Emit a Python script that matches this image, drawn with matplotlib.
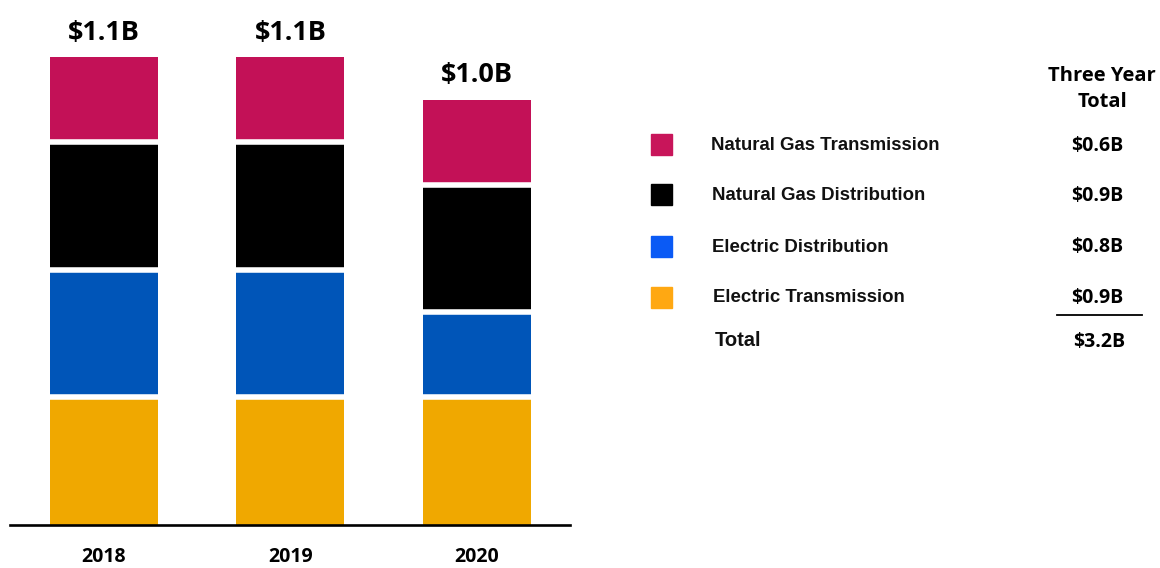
import matplotlib
matplotlib.use('Agg')
import matplotlib.pyplot as plt
from matplotlib.patches import Rectangle

years = ['2018', '2019', '2020']
elec_trans = [0.3, 0.3, 0.3]
elec_dist = [0.3, 0.3, 0.2]
gas_dist = [0.3, 0.3, 0.3]
gas_trans = [0.2, 0.2, 0.2]
year_totals = ['$1.1B', '$1.1B', '$1.0B']

legend_names = ['Natural Gas Transmission', 'Natural Gas Distribution',
                'Electric Distribution', 'Electric Transmission']
three_year = ['$0.6B', '$0.9B', '$0.8B', '$0.9B']
grand_total = '$3.2B'

bar_colors = ['#F0A800', '#0055B8', '#000000', '#C31157']   # bottom -> top
legend_colors = ['#C8155A', '#000000', '#0A5AF5', '#FFA812']

W, H = 1160, 568
fig = plt.figure(figsize=(W / 100, H / 100), dpi=100)

def px(x, y):
    # pixel position (from top-left) -> figure fraction
    return x / W, 1 - y / H

# bar axes: baseline at y=525, top of $1.1B at ~57
ax = fig.add_axes([10 / W, (H - 525) / H, 560 / W, (525 - 57) / H])

x = list(range(len(years)))
bw = 0.58
bottom = [0, 0, 0]
for vals, col in zip([elec_trans, elec_dist, gas_dist, gas_trans], bar_colors):
    ax.bar(x, vals, width=bw, bottom=bottom, color=col, linewidth=0)
    bottom = [b + v for b, v in zip(bottom, vals)]
    # white gap on top of each segment except the last one
    if col != bar_colors[-1]:
        ax.hlines(bottom, [xi - bw / 2 for xi in x], [xi + bw / 2 for xi in x],
                  color='white', linewidth=4, zorder=3)

for xi, top, lab in zip(x, bottom, year_totals):
    ax.annotate(lab, (xi, top), xytext=(0, 8), textcoords='offset points',
                ha='center', va='bottom', fontsize=19.5, fontweight='bold',
                family='Open Sans', annotation_clip=False)

ax.set_xlim(-0.504, 2.5)
ax.set_ylim(0, 1.1)
ax.set_xticks(x)
ax.set_xticklabels(years, fontsize=14, fontweight='bold', family='Open Sans')
ax.tick_params(axis='x', length=0, pad=16)
ax.set_yticks([])
for s in ['top', 'right', 'left']:
    ax.spines[s].set_visible(False)
ax.spines['bottom'].set_linewidth(1.9)
ax.spines['bottom'].set_zorder(5)

# legend table on the right
fig.text(*px(1102, 76), 'Three Year', ha='center', va='center',
         fontsize=14.5, fontweight='bold', family='Open Sans')
fig.text(*px(1102, 102), 'Total', ha='center', va='center',
         fontsize=14.5, fontweight='bold', family='Open Sans')

rows_y = [146, 196, 247, 298]
label_x = [711, 712, 712, 713]
for name, col, val, yy, lx in zip(legend_names, legend_colors, three_year, rows_y, label_x):
    fx, fy = px(651, yy - 1 + 10.5)
    fig.add_artist(Rectangle((fx, fy), 21 / W, 21 / H, transform=fig.transFigure,
                             color=col))
    fig.text(*px(lx, yy), name, ha='left', va='center', fontsize=13.4,
             fontweight='bold', family='Liberation Sans', color='#111111')
    fig.text(*px(1097, yy), val, ha='center', va='center', fontsize=14,
             fontweight='bold', family='Open Sans')

fig.add_artist(plt.Line2D([1057 / W, 1142 / W], [1 - 315 / H, 1 - 315 / H],
                          transform=fig.transFigure, color='black', linewidth=1.3))
fig.text(*px(715, 340), 'Total', ha='left', va='center', fontsize=14.5,
         fontweight='bold', family='Liberation Sans', color='#111111')
fig.text(*px(1099, 342), grand_total, ha='center', va='center', fontsize=14,
         fontweight='bold', family='Open Sans')

fig.savefig('out.png', dpi=100)
